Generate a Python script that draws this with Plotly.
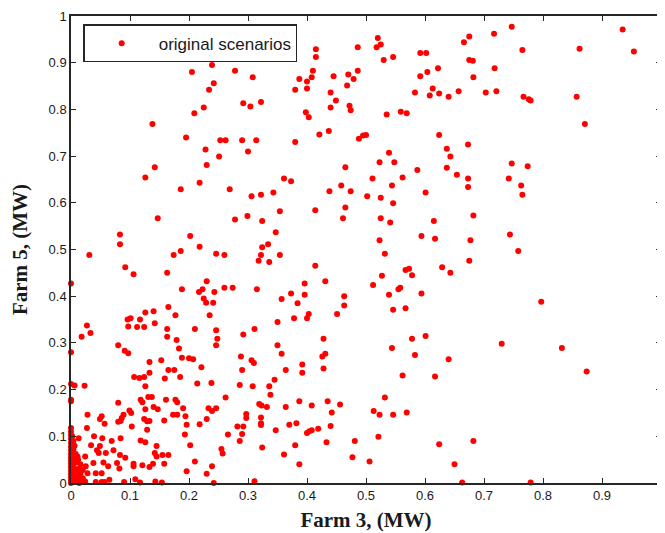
import plotly.graph_objects as go

# Farm 3 output (MW) and Farm 5 output (MW) for each scenario
farm3 = [
    # upper-left region
    0.239, 0.205, 0.242, 0.234, 0.225, 0.209, 0.138, 0.195, 0.228, 0.230, 0.142,
    # upper band 0.23-0.49
    0.278, 0.308, 0.292, 0.304, 0.322, 0.415, 0.415, 0.486, 0.410, 0.387, 0.408, 0.400,
    0.380, 0.400, 0.445, 0.470, 0.486, 0.479, 0.468, 0.440, 0.449, 0.440, 0.472, 0.474,
    0.398, 0.403, 0.253, 0.262, 0.290, 0.314, 0.380, 0.251, 0.300, 0.421, 0.437, 0.488,
    0.495, 0.465,
    # upper band 0.49-0.74
    0.520, 0.525, 0.518, 0.530, 0.546, 0.592, 0.602, 0.592, 0.604, 0.622, 0.613, 0.608,
    0.624, 0.583, 0.640, 0.657, 0.666, 0.675, 0.717, 0.747, 0.675, 0.681, 0.682, 0.718,
    0.703, 0.721, 0.535, 0.559, 0.569, 0.500, 0.624, 0.637, 0.643, 0.673, 0.539, 0.523,
    0.548, 0.637, 0.747, 0.587,
    # upper right
    0.765, 0.862, 0.935, 0.954, 0.767, 0.776, 0.779, 0.857, 0.871, 0.774,
    # middle left
    0.126, 0.218, 0.186, 0.147, 0.083, 0.083, 0.202, 0.218, 0.186, 0.174, 0.031, 0.092,
    0.106, 0.163, 0.000, 0.230, 0.188, 0.217, 0.223, 0.225, 0.229, 0.241, 0.243, 0.235,
    0.165, 0.177, 0.096, 0.101, 0.117, 0.126, 0.140, 0.142, 0.027,
    # middle band 0.23-0.49
    0.361, 0.373, 0.269, 0.306, 0.322, 0.343, 0.438, 0.458, 0.474, 0.414, 0.465, 0.461,
    0.354, 0.278, 0.299, 0.324, 0.347, 0.334, 0.324, 0.322, 0.318, 0.336, 0.354, 0.246,
    0.260, 0.414, 0.431, 0.396, 0.260, 0.274, 0.315, 0.373, 0.357, 0.396, 0.384, 0.463,
    0.463, 0.451, 0.403, 0.400, 0.378, 0.350,
    # middle band 0.49-0.74
    0.511, 0.562, 0.544, 0.654, 0.673, 0.673, 0.742, 0.502, 0.525, 0.546, 0.601, 0.525,
    0.541, 0.615, 0.682, 0.523, 0.594, 0.617, 0.677, 0.744, 0.532, 0.675, 0.629, 0.643,
    0.567, 0.573, 0.578, 0.527, 0.512, 0.539, 0.555, 0.558, 0.594, 0.546, 0.567,
    # middle right
    0.763, 0.765, 0.758, 0.797,
    # lower left
    0.097, 0.112, 0.124, 0.163, 0.210, 0.033, 0.018, 0.163, 0.179, 0.080, 0.091, 0.097,
    0.183, 0.000, 0.188, 0.200, 0.207, 0.133, 0.153, 0.221, 0.165, 0.175, 0.133, 0.107,
    0.116, 0.124, 0.159, 0.185, 0.214, 0.238, 0.000, 0.006, 0.023, 0.126, 0.000, 0.000,
    0.118, 0.121, 0.131, 0.137, 0.080, 0.161, 0.177, 0.180, 0.126, 0.140, 0.147, 0.190,
    0.233, 0.239, 0.099, 0.102, 0.028, 0.052, 0.049, 0.089, 0.086, 0.084, 0.080, 0.103,
    0.124, 0.129, 0.133, 0.173, 0.180, 0.194, 0.158, 0.196, 0.230, 0.218, 0.129, 0.193,
    0.027, 0.057, 0.039, 0.053, 0.069, 0.084, 0.013, 0.118, 0.126, 0.145, 0.202, 0.034,
    0.049, 0.072, 0.044, 0.047, 0.059, 0.083, 0.092, 0.011, 0.024, 0.142, 0.145, 0.155,
    0.165, 0.038, 0.055, 0.063, 0.078, 0.082, 0.106, 0.106, 0.121, 0.133, 0.139, 0.158,
    0.210, 0.239, 0.025, 0.016, 0.042, 0.052, 0.028, 0.196, 0.230, 0.019, 0.024, 0.042,
    0.052, 0.057, 0.065, 0.090, 0.109, 0.117, 0.143, 0.154, 0.242,
    # dense cluster at the origin
    0.000, 0.000, 0.000, 0.000, 0.000, 0.000, 0.000, 0.000, 0.000, 0.000, 0.000, 0.000,
    0.000, 0.000, 0.000, 0.000, 0.000, 0.004, 0.004, 0.004, 0.004, 0.004, 0.004, 0.004,
    0.008, 0.008, 0.008, 0.008, 0.008, 0.012, 0.012, 0.012, 0.012, 0.016, 0.016, 0.016,
    0.020, 0.020, 0.003, 0.006, 0.010, 0.014, 0.002, 0.002,
    # lower band 0.23-0.49
    0.246, 0.248, 0.246, 0.292, 0.311, 0.350, 0.357, 0.428, 0.431, 0.426, 0.428, 0.392,
    0.392, 0.288, 0.290, 0.306, 0.310, 0.364, 0.286, 0.308, 0.336, 0.345, 0.338, 0.262,
    0.246, 0.319, 0.323, 0.332, 0.364, 0.387, 0.408, 0.435, 0.456, 0.442, 0.297, 0.297,
    0.322, 0.322, 0.322, 0.282, 0.292, 0.290, 0.266, 0.286, 0.347, 0.370, 0.382, 0.400,
    0.404, 0.408, 0.419, 0.440, 0.433, 0.481, 0.255, 0.257, 0.324, 0.380, 0.361, 0.477,
    0.387, 0.311,
    # lower band 0.49-0.74
    0.578, 0.601, 0.544, 0.583, 0.640, 0.730, 0.562, 0.617, 0.532, 0.513, 0.523, 0.546,
    0.569, 0.521, 0.624, 0.682, 0.506, 0.650, 0.663,
    # lower right
    0.832, 0.874, 0.779,
]

farm5 = [
    # upper-left region
    0.895, 0.880, 0.856, 0.842, 0.804, 0.792, 0.769, 0.740, 0.714, 0.681, 0.676,
    # upper band 0.23-0.49
    0.883, 0.869, 0.813, 0.806, 0.816, 0.929, 0.912, 0.933, 0.883, 0.865, 0.869, 0.860,
    0.842, 0.845, 0.871, 0.875, 0.883, 0.865, 0.851, 0.836, 0.819, 0.804, 0.808, 0.798,
    0.794, 0.783, 0.734, 0.734, 0.734, 0.734, 0.730, 0.699, 0.710, 0.746, 0.754, 0.737,
    0.744, 0.676,
    # upper band 0.49-0.74
    0.953, 0.939, 0.933, 0.906, 0.912, 0.921, 0.921, 0.871, 0.880, 0.888, 0.845, 0.830,
    0.834, 0.836, 0.827, 0.839, 0.944, 0.956, 0.962, 0.977, 0.906, 0.904, 0.869, 0.888,
    0.836, 0.839, 0.789, 0.795, 0.792, 0.745, 0.745, 0.716, 0.699, 0.725, 0.707, 0.687,
    0.687, 0.675, 0.684, 0.670,
    # upper right
    0.927, 0.930, 0.971, 0.924, 0.827, 0.822, 0.819, 0.827, 0.769, 0.678,
    # middle left
    0.654, 0.643, 0.629, 0.567, 0.532, 0.511, 0.529, 0.506, 0.497, 0.488, 0.488, 0.462,
    0.447, 0.450, 0.427, 0.432, 0.415, 0.409, 0.415, 0.395, 0.386, 0.386, 0.409, 0.359,
    0.377, 0.359, 0.350, 0.353, 0.350, 0.365, 0.368, 0.342, 0.337,
    # middle band 0.23-0.49
    0.652, 0.646, 0.629, 0.614, 0.617, 0.622, 0.625, 0.637, 0.625, 0.584, 0.590, 0.567,
    0.582, 0.564, 0.572, 0.561, 0.537, 0.511, 0.505, 0.488, 0.476, 0.473, 0.488, 0.491,
    0.488, 0.465, 0.432, 0.427, 0.418, 0.418, 0.415, 0.406, 0.394, 0.403, 0.385, 0.400,
    0.380, 0.362, 0.362, 0.353, 0.353, 0.345,
    # middle band 0.49-0.74
    0.652, 0.654, 0.637, 0.660, 0.652, 0.634, 0.652, 0.614, 0.611, 0.599, 0.622, 0.567,
    0.558, 0.561, 0.573, 0.520, 0.529, 0.523, 0.520, 0.532, 0.491, 0.476, 0.462, 0.450,
    0.456, 0.459, 0.445, 0.444, 0.424, 0.403, 0.415, 0.418, 0.406, 0.371, 0.374,
    # middle right
    0.637, 0.617, 0.497, 0.388,
    # lower left
    0.335, 0.334, 0.334, 0.330, 0.330, 0.321, 0.313, 0.313, 0.306, 0.295, 0.283, 0.278,
    0.288, 0.280, 0.268, 0.267, 0.265, 0.259, 0.263, 0.248, 0.242, 0.242, 0.236, 0.227,
    0.225, 0.227, 0.224, 0.227, 0.213, 0.214, 0.212, 0.209, 0.208, 0.207, 0.178, 0.175,
    0.178, 0.173, 0.184, 0.184, 0.172, 0.178, 0.178, 0.173, 0.158, 0.163, 0.158, 0.160,
    0.160, 0.154, 0.155, 0.150, 0.146, 0.143, 0.137, 0.146, 0.139, 0.133, 0.131, 0.121,
    0.137, 0.132, 0.133, 0.146, 0.146, 0.143, 0.134, 0.125, 0.137, 0.126, 0.114, 0.104,
    0.118, 0.127, 0.100, 0.096, 0.090, 0.096, 0.096, 0.091, 0.087, 0.079, 0.081, 0.081,
    0.079, 0.070, 0.070, 0.064, 0.064, 0.060, 0.054, 0.057, 0.057, 0.064, 0.057, 0.060,
    0.060, 0.043, 0.044, 0.036, 0.043, 0.031, 0.041, 0.036, 0.038, 0.034, 0.041, 0.041,
    0.046, 0.036, 0.036, 0.030, 0.021, 0.021, 0.021, 0.025, 0.020, 0.007, 0.003, 0.002,
    0.002, 0.002, 0.007, 0.002, 0.008, 0.001, 0.003, 0.001, 0.000,
    # dense cluster at the origin
    0.118, 0.110, 0.102, 0.094, 0.086, 0.078, 0.070, 0.062, 0.055, 0.048, 0.041, 0.034,
    0.027, 0.020, 0.013, 0.006, 0.000, 0.090, 0.072, 0.052, 0.035, 0.018, 0.008, 0.002,
    0.062, 0.044, 0.026, 0.012, 0.003, 0.050, 0.030, 0.015, 0.004, 0.040, 0.020, 0.006,
    0.028, 0.010, 0.065, 0.080, 0.005, 0.000, 0.045, 0.100,
    # lower band 0.23-0.49
    0.327, 0.309, 0.295, 0.318, 0.330, 0.295, 0.277, 0.309, 0.277, 0.271, 0.245, 0.254,
    0.236, 0.271, 0.242, 0.263, 0.257, 0.242, 0.210, 0.207, 0.207, 0.221, 0.189, 0.183,
    0.160, 0.169, 0.166, 0.163, 0.163, 0.175, 0.166, 0.175, 0.168, 0.151, 0.148, 0.139,
    0.140, 0.128, 0.124, 0.121, 0.121, 0.105, 0.104, 0.090, 0.113, 0.125, 0.128, 0.107,
    0.111, 0.113, 0.116, 0.122, 0.087, 0.090, 0.073, 0.063, 0.076, 0.081, 0.061, 0.055,
    0.040, 0.004,
    # lower band 0.49-0.74
    0.309, 0.315, 0.289, 0.274, 0.265, 0.298, 0.230, 0.228, 0.183, 0.154, 0.146, 0.146,
    0.151, 0.099, 0.083, 0.090, 0.046, 0.040, 0.001,
    # lower right
    0.289, 0.239, 0.001,
]

x_ticks = [0, 0.1, 0.2, 0.3, 0.4, 0.5, 0.6, 0.7, 0.8, 0.9, 1]
x_tick_text = ["0", "0.1", "0.2", "0.3", "0.4", "0.5", "0.6", "0.7", "0.8", "0.9", "1"]
y_ticks = [0, 0.1, 0.2, 0.3, 0.4, 0.5, 0.6, 0.7, 0.8, 0.9, 1]
y_tick_text = ["0", "0.1", "0.2", "0.3", "0.4", "0.5", "0.6", "0.7", "0.8", "0.9", "1"]

fig = go.Figure()
fig.add_trace(go.Scatter(
    x=farm3, y=farm5, mode="markers", name="original scenarios",
    marker=dict(color="#ff0000", size=6, line=dict(width=0)),
    cliponaxis=False,
))

axis_common = dict(
    range=[0, 1], showgrid=False, zeroline=False, automargin=False,
    showline=True, linecolor="#262626", linewidth=1.5,
    mirror="allticks", ticks="inside", ticklen=5, tickwidth=1.3, tickcolor="#262626",
    tickfont=dict(family="Liberation Sans, Arial, sans-serif", size=13, color="#1a1a1a"),
)

# the page body adds an 8 px offset; the figure overflows the window by that amount
fig.update_layout(
    width=665, height=533,
    margin=dict(l=63, r=12, t=8, b=58),
    paper_bgcolor="white", plot_bgcolor="white",
    showlegend=True,
    legend=dict(
        x=0.021, y=0.982, xanchor="left", yanchor="top",
        bgcolor="white", bordercolor="#262626", borderwidth=1.3,
        font=dict(family="Liberation Sans, Arial, sans-serif", size=17, color="#1a1a1a"),
        itemwidth=64,
    ),
    xaxis=dict(
        axis_common, tickvals=x_ticks, ticktext=x_tick_text,
        title=dict(text="<b>Farm 3, (MW)</b>", standoff=10,
                   font=dict(family="Liberation Serif, Times New Roman, serif", size=21, color="#1a1a1a")),
    ),
    yaxis=dict(
        axis_common, tickvals=y_ticks, ticktext=y_tick_text,
        title=dict(text="<b>Farm 5, (MW)</b>", standoff=18,
                   font=dict(family="Liberation Serif, Times New Roman, serif", size=21, color="#1a1a1a")),
    ),
)

fig.write_html("out.html")
